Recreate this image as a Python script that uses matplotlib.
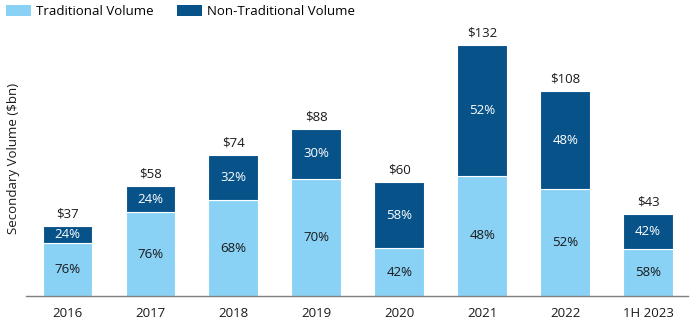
import numpy as np
import matplotlib.pyplot as plt
from matplotlib.patches import Patch

plt.rcParams['font.family'] = ['Open Sans', 'DejaVu Sans']

# Data
years = ['2016', '2017', '2018', '2019', '2020', '2021', '2022', '1H 2023']
totals = [37, 58, 74, 88, 60, 132, 108, 43]
trad_pct = [76, 76, 68, 70, 42, 48, 52, 58]
nontrad_pct = [24, 24, 32, 30, 58, 52, 48, 42]

light = '#89D1F5'
dark = '#08528A'

trad = np.array(totals) * np.array(trad_pct) / 100
nontrad = np.array(totals) * np.array(nontrad_pct) / 100
x = np.arange(len(years))

# Construct figure
fig = plt.figure(figsize=(6.91, 3.2), dpi=100)
ax = fig.add_axes([0.0376, 0.075, 0.958, 0.8625])

ax.bar(x, trad, width=0.6, color=light, edgecolor='white', linewidth=0.8)
ax.bar(x, nontrad, width=0.6, bottom=trad, color=dark, edgecolor='white', linewidth=0.8)

# Segment and total labels
for i in range(len(years)):
	ax.text(x[i], trad[i] / 2, '%d%%' % trad_pct[i], ha='center', va='center',
		fontsize=9.5, color='#1a1a1a')
	ax.text(x[i], trad[i] + nontrad[i] / 2, '%d%%' % nontrad_pct[i], ha='center',
		va='center', fontsize=9.5, color='white')
	ax.text(x[i], totals[i] + 3, '$%d' % totals[i], ha='center', va='bottom',
		fontsize=9.5, color='#1a1a1a')

# Axis format
ax.set_xlim(-0.5, 7.48)
ax.set_ylim(0, 145.3)
ax.set_xticks(x)
ax.set_xticklabels(years, fontsize=9.5, color='#1a1a1a')
ax.tick_params(axis='x', length=0, pad=8)
ax.set_yticks([])
for side in ['top', 'right', 'left']:
	ax.spines[side].set_visible(False)
ax.spines['bottom'].set_color('#7f7f7f')
ax.spines['bottom'].set_linewidth(1)
ax.set_ylabel('Secondary Volume ($bn)', fontsize=9.5, color='#1a1a1a', labelpad=4)

# Legend
handles = [Patch(facecolor=light, label='Traditional Volume'),
	Patch(facecolor=dark, label='Non-Traditional Volume')]
fig.legend(handles=handles, loc='upper left', bbox_to_anchor=(-0.003, 1.01), ncol=2,
	frameon=False, fontsize=9.5, handlelength=1.9, handleheight=0.95,
	handletextpad=0.35, columnspacing=1.8, borderaxespad=0.2)

# Save figure
plt.savefig('out.png', dpi=100)
